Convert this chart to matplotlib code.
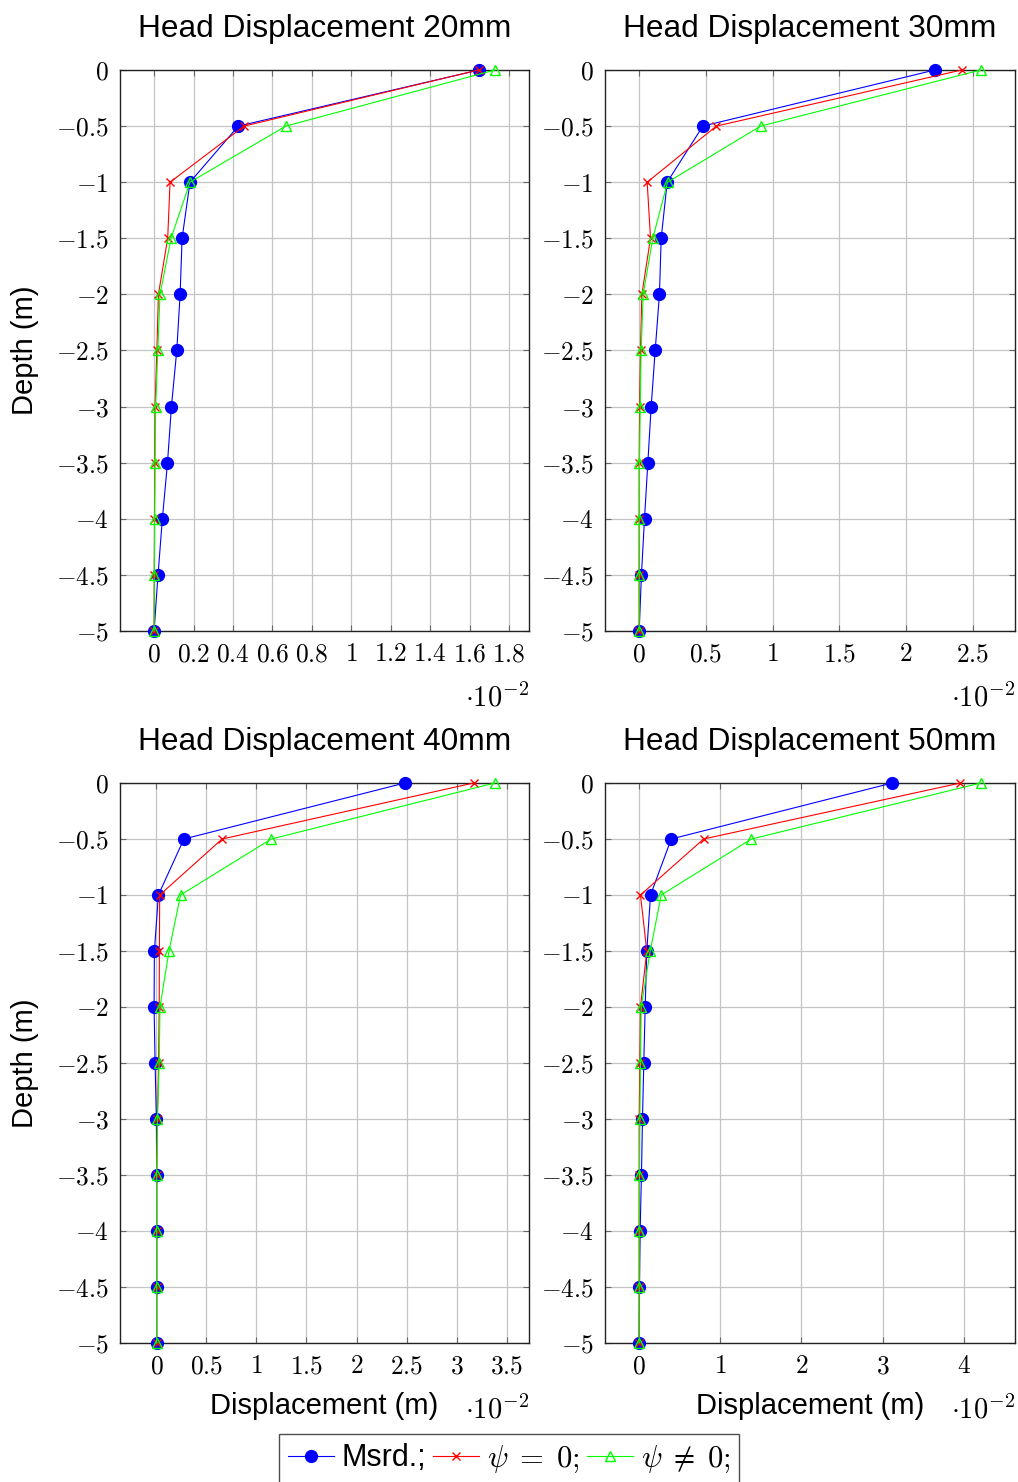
import matplotlib
matplotlib.use("Agg")
import matplotlib.pyplot as plt
from matplotlib.lines import Line2D

plt.rcParams['mathtext.fontset'] = 'cm'
plt.rcParams['font.family'] = ['Liberation Sans', 'DejaVu Sans']

# Depth (m)
depth = [0, -0.5, -1, -1.5, -2, -2.5, -3, -3.5, -4, -4.5, -5]

# Displacements in units of 1e-2 m
titles = ["Head Displacement 20mm", "Head Displacement 30mm",
          "Head Displacement 40mm", "Head Displacement 50mm"]

msrd_20 = [1.647, 0.427, 0.182, 0.142, 0.132, 0.115, 0.088, 0.068, 0.042, 0.020, 0.0]
psi0_20 = [1.645, 0.456, 0.081, 0.069, 0.022, 0.014, 0.005, 0.003, 0.002, 0.001, 0.0]
psin_20 = [1.728, 0.668, 0.182, 0.086, 0.030, 0.019, 0.008, 0.005, 0.003, 0.001, 0.0]

msrd_30 = [2.215, 0.477, 0.210, 0.165, 0.152, 0.120, 0.090, 0.065, 0.040, 0.017, 0.0]
psi0_30 = [2.416, 0.578, 0.060, 0.085, 0.020, 0.010, 0.003, 0.0, 0.0, 0.0, 0.0]
psin_30 = [2.560, 0.910, 0.213, 0.102, 0.030, 0.015, 0.008, 0.002, 0.001, 0.0, 0.0]

msrd_40 = [2.483, 0.275, 0.020, -0.020, -0.023, -0.013, 0.0, 0.003, 0.003, 0.003, 0.003]
psi0_40 = [3.170, 0.657, 0.033, 0.030, 0.028, 0.022, 0.010, 0.003, 0.003, 0.003, 0.003]
psin_40 = [3.383, 1.148, 0.242, 0.126, 0.036, 0.028, 0.010, 0.003, 0.003, 0.003, 0.003]

msrd_50 = [3.119, 0.395, 0.140, 0.094, 0.074, 0.057, 0.041, 0.028, 0.012, 0.004, 0.0]
psi0_50 = [3.958, 0.794, 0.016, 0.094, 0.016, 0.008, 0.0, 0.0, 0.0, 0.0, 0.0]
psin_50 = [4.210, 1.383, 0.272, 0.136, 0.025, 0.016, 0.008, 0.004, 0.0, 0.0, 0.0]

xticks_20 = [0, 0.2, 0.4, 0.6, 0.8, 1, 1.2, 1.4, 1.6, 1.8]
xticks_30 = [0, 0.5, 1, 1.5, 2, 2.5]
xticks_40 = [0, 0.5, 1, 1.5, 2, 2.5, 3, 3.5]
xticks_50 = [0, 1, 2, 3, 4]
yticks = [0, -0.5, -1, -1.5, -2, -2.5, -3, -3.5, -4, -4.5, -5]

legend_labels = ["Msrd.;", r"$\psi\;=\;0;$", r"$\psi\;\neq\;0;$"]

panels = [
    (titles[0], msrd_20, psi0_20, psin_20, xticks_20),
    (titles[1], msrd_30, psi0_30, psin_30, xticks_30),
    (titles[2], msrd_40, psi0_40, psin_40, xticks_40),
    (titles[3], msrd_50, psi0_50, psin_50, xticks_50),
]

W, H = 1018, 1482
fig = plt.figure(figsize=(W / 100, H / 100), dpi=100)

# axes boxes in pixels: (left, top, right, bottom)
boxes = [(120, 70, 529, 631), (605, 70, 1015, 631),
         (120, 783, 529, 1343), (605, 783, 1015, 1343)]


def fmt(v):
    if abs(v - round(v)) < 1e-9:
        s = "%d" % round(v)
    else:
        s = ("%.2f" % v).rstrip('0')
    return "$%s$" % s


tick_fs = 18.3
for i, ((l, t, r, b), (title, m, p0, pn, xt)) in enumerate(zip(boxes, panels)):
    ax = fig.add_axes([l / W, (H - b) / H, (r - l) / W, (b - t) / H])
    ax.plot(m, depth, color='#0000ff', lw=0.8, marker='o', ms=8.5,
            mfc='#0000ff', mec='#0000ff', clip_on=False, zorder=3)
    ax.plot(p0, depth, color='#ff0000', lw=0.8, marker='x', ms=6,
            mew=1.0, clip_on=False, zorder=4)
    ax.plot(pn, depth, color='#00ff00', lw=0.8, marker='^', ms=7,
            mfc='none', mec='#00ff00', mew=1.0, clip_on=False, zorder=5)

    allx = m + p0 + pn
    lo, hi = min(allx), max(allx)
    rng = hi - lo
    ax.set_xlim(lo - 0.1 * rng, hi + 0.1 * rng)
    ax.set_ylim(-5, 0)

    ax.set_xticks(xt)
    ax.set_xticklabels([fmt(v) for v in xt], fontsize=tick_fs)
    ax.set_yticks(yticks)
    ax.set_yticklabels([fmt(v) for v in yticks], fontsize=tick_fs)

    ax.grid(True, color='#c4c4c4', lw=0.9)
    ax.set_axisbelow(True)
    ax.tick_params(direction='in', top=True, right=True, length=4,
                   width=0.8, color='#666666', pad=8)
    for sp in ax.spines.values():
        sp.set_color('#222222')
        sp.set_linewidth(1.0)

    hpx = b - t
    ax.text(0.5, 1 + 41 / hpx, title, transform=ax.transAxes,
            ha='center', va='center', fontsize=22.8)
    ax.text(1.0, -67 / hpx, r"$\cdot 10^{-2}$", transform=ax.transAxes,
            ha='right', va='center', fontsize=20.5)
    if i in (0, 2):
        ax.text((25 - l) / (r - l), 0.5, "Depth (m)", transform=ax.transAxes,
                rotation=90, ha='center', va='center', fontsize=21)
    if i in (2, 3):
        ax.text(0.5, -63 / hpx, "Displacement (m)", transform=ax.transAxes,
                ha='center', va='center', fontsize=21)

handles = [
    Line2D([], [], color='#0000ff', lw=0.8, marker='o', ms=8.5),
    Line2D([], [], color='#ff0000', lw=0.8, marker='x', ms=6, mew=1.0),
    Line2D([], [], color='#00ff00', lw=0.8, marker='^', ms=7, mfc='none', mew=1.0),
]
leg = fig.legend(handles, legend_labels, loc='center', bbox_to_anchor=(0.5, 1 - 1459 / H),
                 ncol=3, fontsize=22, frameon=True, fancybox=False,
                 handlelength=1.5, handletextpad=0.25, columnspacing=0.25,
                 borderpad=0.3, borderaxespad=0)
leg.get_frame().set_edgecolor('#222222')
leg.get_frame().set_linewidth(1.0)

fig.savefig("out.png", dpi=100)
